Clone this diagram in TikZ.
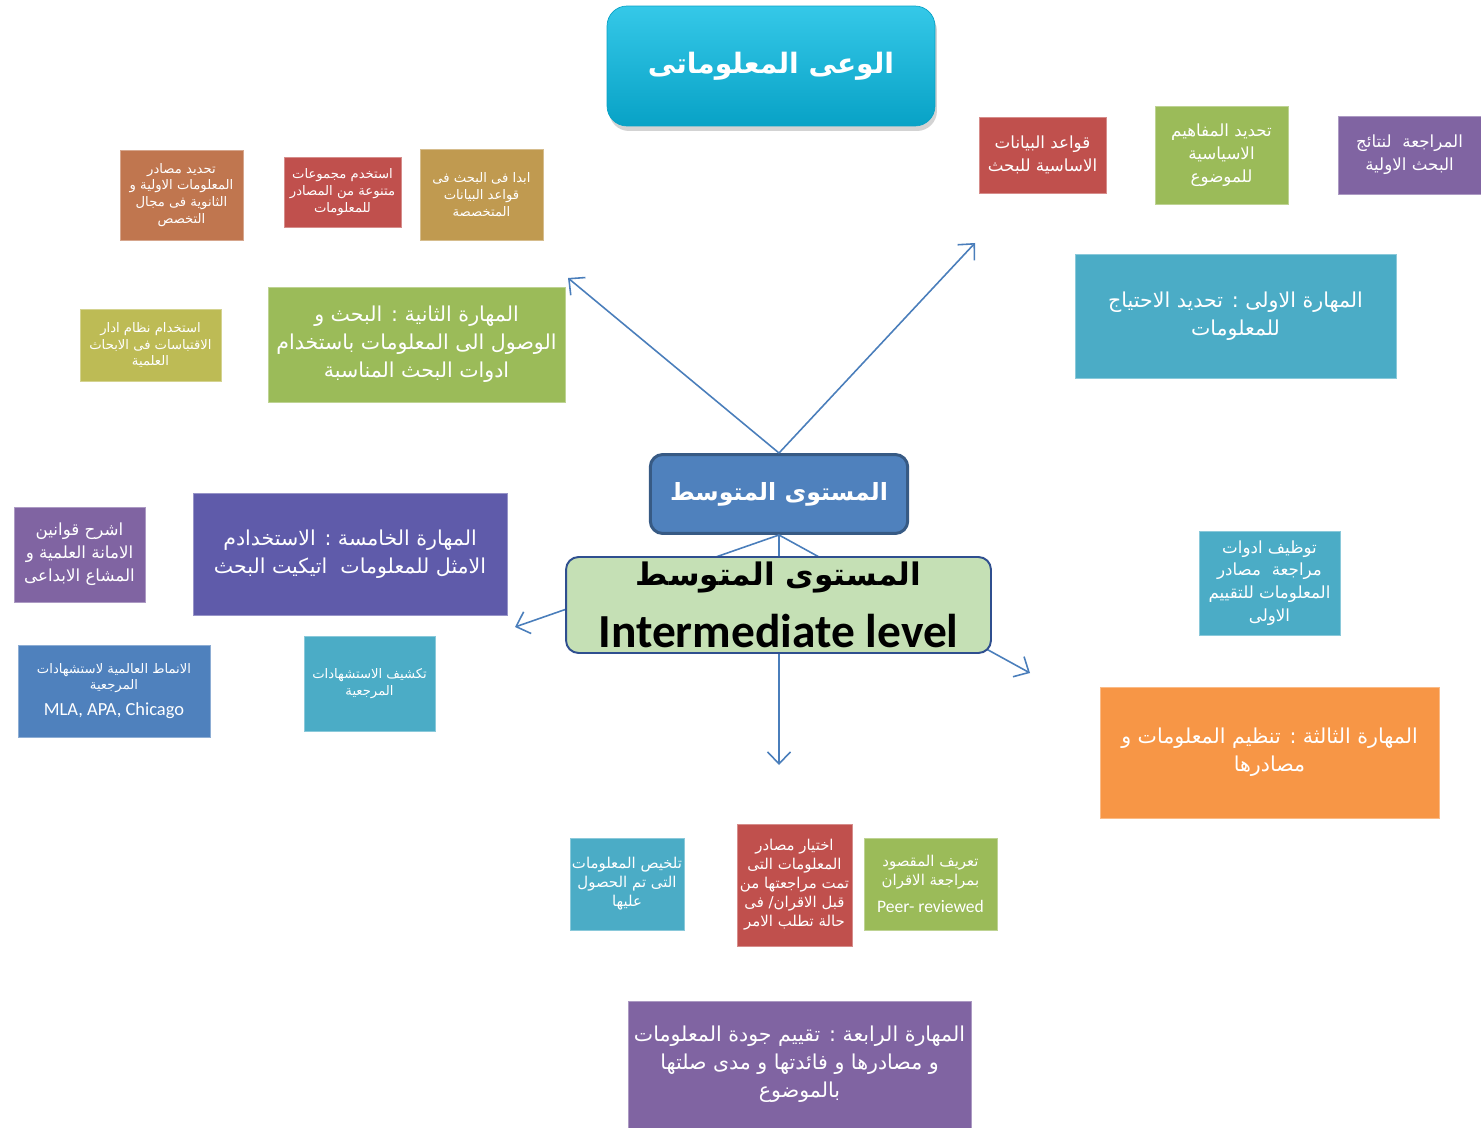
\documentclass[tikz,border=0pt]{standalone}
\usepackage{fontspec}
\usetikzlibrary{arrows.meta,shadows}
\TeXXeTstate=1
\newfontfamily\arabicfont[Script=Arabic]{DejaVu Sans}
\newfontfamily\latinfont{Carlito}
\newcommand{\arline}[1]{\beginR #1\endR}
\definecolor{cteal}{HTML}{4BACC6}
\definecolor{cgreen}{HTML}{9BBB59}
\definecolor{cred}{HTML}{C0504D}
\definecolor{cpurple}{HTML}{8064A2}
\definecolor{corange}{HTML}{F79646}
\definecolor{cnavy}{HTML}{4F81BD}
\definecolor{cbrown}{HTML}{C0764F}
\definecolor{cgold}{HTML}{C09A50}
\definecolor{colive}{HTML}{BDBB55}
\definecolor{cindigo}{HTML}{5F5BAA}
\definecolor{lineblue}{HTML}{4A7EBB}
\definecolor{lightgreen}{HTML}{C5E0B5}
\definecolor{darkblue}{HTML}{2F4F8F}
\definecolor{titletop}{HTML}{35C8E8}
\definecolor{titlebot}{HTML}{08A2C6}
\begin{document}
\begin{tikzpicture}[x=0.02cm, y=-0.02cm,
    box/.style = {draw=#1!65!white, fill=#1, text=white, align=center, inner sep=0pt},
    skill/.style = {font=\arabicfont\fontsize{11.7}{15.9}\selectfont},
    tip/.style = {font=\arabicfont\fontsize{9.5}{13}\selectfont},
    note/.style = {font=\arabicfont\fontsize{7.5}{9.6}\selectfont},
    arr/.style = {draw=lineblue, line width=0.9pt, -{Straight Barb[length=2.4mm, width=4.6mm]}}]
    \useasboundingbox (0,0) rectangle (1481,1128);
    % title and centre
    \node[draw=titlebot, top color=titletop, bottom color=titlebot, rounded corners=0.4cm,
          drop shadow={shadow xshift=0.4mm, shadow yshift=-1mm, opacity=0.35},
          minimum width=6.56cm, minimum height=2.4cm, text=white,
          font=\arabicfont\fontsize{16}{20}\selectfont\bfseries] (t) at (771,66) {\arline{الوعى المعلوماتى}};
    \node[draw=cnavy!70!black, line width=1.7pt, fill=cnavy, rounded corners=0.25cm,
          minimum width=5.15cm, minimum height=1.58cm, text=white,
          font=\arabicfont\fontsize{13.5}{17}\selectfont\bfseries] (m) at (779,494) {\arline{المستوى المتوسط}};
    \coordinate (u1) at (568,278);
    \coordinate (u2) at (975,243);
    \coordinate (d1) at (515,627);
    \coordinate (d2) at (1030,673);
    \coordinate (d3) at (779,765);
    \draw[arr] (m.north) -- (u1);
    \draw[arr] (m.north) -- (u2);
    \draw[arr] (m.south) -- (d1);
    \draw[arr] (m.south) -- (d2);
    \draw[arr] (m.south) -- (d3);
    \node[draw=darkblue, line width=1.1pt, fill=lightgreen, rounded corners=0.25cm,
          minimum width=8.5cm, minimum height=1.92cm, align=center, inner sep=0pt] (g) at (778.5,605)
          {{\arabicfont\fontsize{17.7}{20}\selectfont\bfseries\arline{المستوى المتوسط}}\\[4mm]
           {\latinfont\fontsize{27}{28}\selectfont\bfseries Intermediate level}};
    % skills
    \node[box=cteal, skill, minimum width=6.42cm, minimum height=2.48cm] (s1) at (1235.5,316)
          {\arline{المهارة الاولى : تحديد الاحتياج}\\\arline{للمعلومات}};
    \node[box=cgreen, skill, minimum width=5.94cm, minimum height=2.3cm] (s2) at (416.5,344.5)
          {\arline{المهارة الثانية : البحث و}\\\arline{الوصول الى المعلومات باستخدام}\\\arline{ادوات البحث المناسبة}};
    \node[box=corange, skill, minimum width=6.78cm, minimum height=2.62cm] (s3) at (1269.5,752.5)
          {\arline{المهارة الثالثة : تنظيم المعلومات و}\\\arline{مصادرها}};
    \node[box=cpurple, skill, minimum width=6.86cm, minimum height=2.54cm] (s4) at (799.5,1064.5)
          {\arline{المهارة الرابعة : تقييم جودة المعلومات}\\\arline{و مصادرها و فائدتها و مدى صلتها}\\\arline{بالموضوع}};
    \node[box=cindigo, skill, minimum width=6.28cm, minimum height=2.44cm] (s5) at (350,554)
          {\arline{المهارة الخامسة : الاستخدادم}\\\arline{الامثل للمعلومات\ \ اتيكيت البحث}};
    % first skill notes
    \node[box=cred, tip, minimum width=2.54cm, minimum height=1.52cm] (b1) at (1042.5,155)
          {\arline{قواعد البيانات}\\\arline{الاساسية للبحث}};
    \node[box=cgreen, tip, minimum width=2.66cm, minimum height=1.96cm] (b2) at (1221.5,155)
          {\arline{تحديد المفاهيم}\\\arline{الاسياسية}\\\arline{للموضوع}};
    \node[box=cpurple, tip, minimum width=2.86cm, minimum height=1.56cm] (b3) at (1409.5,155)
          {\arline{المراجعة\ \ لنتائج}\\\arline{البحث الاولية}};
    % second skill notes
    \node[box=cbrown, note, minimum width=2.46cm, minimum height=1.8cm] (a1) at (181.5,195)
          {\arline{تحديد مصادر}\\\arline{المعلومات الاولية و}\\\arline{الثانوية فى مجال}\\\arline{التخصص}};
    \node[box=cred, note, minimum width=2.34cm, minimum height=1.4cm] (a2) at (342.5,192)
          {\arline{استخدم مجموعات}\\\arline{متنوعة من المصادر}\\\arline{للمعلومات}};
    \node[box=cgold, note, minimum width=2.46cm, minimum height=1.82cm] (a3) at (481.5,194.5)
          {\arline{ابدا فى البحث فى}\\\arline{قواعد البيانات}\\\arline{المتخصصة}};
    \node[box=colive, note, minimum width=2.82cm, minimum height=1.44cm] (a4) at (150.5,345)
          {\arline{استخدام نظام ادار}\\\arline{الاقتباسات فى الابحاث}\\\arline{العلمية}};
    % fifth skill notes
    \node[box=cpurple, tip, minimum width=2.62cm, minimum height=1.9cm] (c1) at (79.5,554.5)
          {\arline{اشرح قوانين}\\\arline{الامانة العلمية و}\\\arline{المشاع الابداعى}};
    \node[box=cnavy, note, minimum width=3.84cm, minimum height=1.84cm] (c2) at (114,691)
          {\arline{الانماط العالمية لاستشهادات}\\\arline{المرجعية}\\[1.8mm]
           {\latinfont\fontsize{10.5}{12}\selectfont MLA, APA, Chicago}};
    \node[box=cteal, note, minimum width=2.62cm, minimum height=1.9cm] (c3) at (369.5,683.5)
          {\arline{تكشيف الاستشهادات}\\\arline{المرجعية}};
    % third skill note
    \node[box=cteal, tip, minimum width=2.82cm, minimum height=2.08cm] (f1) at (1269.5,583)
          {\arline{توظيف ادوات}\\\arline{مراجعة\ \ مصادر}\\\arline{المعلومات للتقييم}\\\arline{الاولى}};
    % fourth skill notes
    \node[box=cteal, tip, font=\arabicfont\fontsize{8.5}{10.8}\selectfont,
          minimum width=2.28cm, minimum height=1.84cm] (e1) at (627,884)
          {\arline{تلخيص المعلومات}\\\arline{التى تم الحصول}\\\arline{عليها}};
    \node[box=cred, tip, font=\arabicfont\fontsize{8.5}{10.8}\selectfont,
          minimum width=2.3cm, minimum height=2.44cm] (e2) at (794.5,885)
          {\arline{اختيار مصادر}\\\arline{المعلومات التى}\\\arline{تمت مراجعتها من}\\\arline{قبل الاقران/ فى}\\\arline{حالة تطلب الامر}};
    \node[box=cgreen, tip, font=\arabicfont\fontsize{8.5}{10.8}\selectfont,
          minimum width=2.66cm, minimum height=1.84cm] (e3) at (930.5,884)
          {\arline{تعريف المقصود}\\\arline{بمراجعة الاقران}\\[1.5mm]
           {\latinfont\fontsize{10}{11}\selectfont Peer- reviewed}};
\end{tikzpicture}
\end{document}
